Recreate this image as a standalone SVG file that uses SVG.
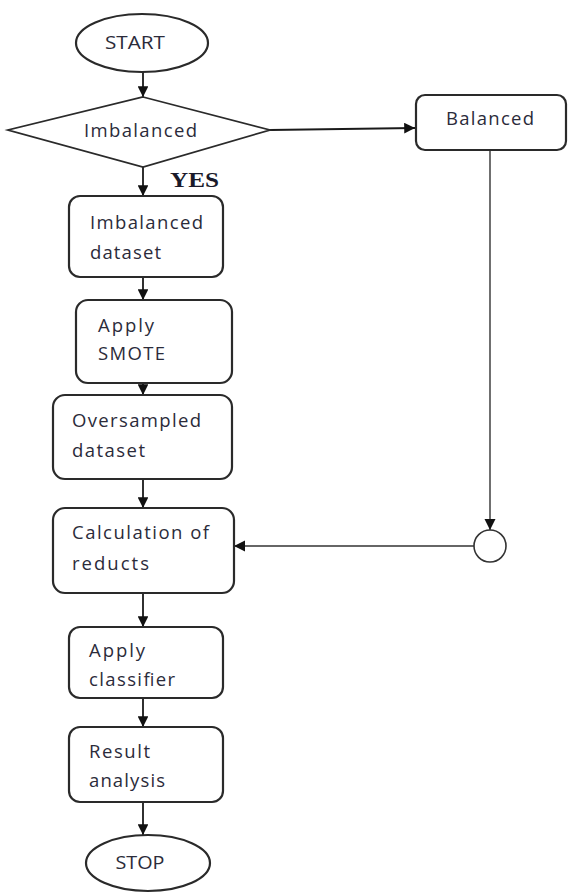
<svg xmlns="http://www.w3.org/2000/svg" width="568" height="893" viewBox="0 0 568 893">
<style>
.box{fill:#fff;stroke:#2a2a2a;stroke-width:2.2}
.t{font-family:"Open Sans","Liberation Sans",sans-serif;font-size:18.5px;fill:#2b2b3a}
.c{fill:none;stroke:#1a1a1a;stroke-width:1.8}
.thin{fill:none;stroke:#333;stroke-width:1.4}
</style>
<defs>
<marker id="ah" viewBox="0 0 10 10" refX="10" refY="5" markerWidth="6" markerHeight="6" orient="auto" markerUnits="strokeWidth">
<path d="M0,0 L10,5 L0,10 z" fill="#111"/>
</marker>
<marker id="ah2" viewBox="0 0 10 10" refX="10" refY="5" markerWidth="8" markerHeight="8" orient="auto" markerUnits="strokeWidth">
<path d="M0,0 L10,5 L0,10 z" fill="#111"/>
</marker>
</defs>
<rect width="568" height="893" fill="#fff"/>
<g id="connectors">
<line class="c" x1="143" y1="72" x2="143" y2="97" marker-end="url(#ah)"/>
<line class="c" x1="270" y1="130" x2="415" y2="128" marker-end="url(#ah)"/>
<line class="c" x1="143" y1="167" x2="143" y2="196" marker-end="url(#ah)"/>
<line class="c" x1="143" y1="277" x2="143" y2="300" marker-end="url(#ah)"/>
<line class="c" x1="143" y1="383" x2="143" y2="395" marker-end="url(#ah)"/>
<line class="c" x1="143" y1="479" x2="143" y2="508" marker-end="url(#ah)"/>
<line class="thin" x1="490" y1="150" x2="490" y2="530" marker-end="url(#ah2)"/>
<line class="thin" x1="474" y1="546" x2="234" y2="546" marker-end="url(#ah2)"/>
<line class="c" x1="143" y1="593" x2="143" y2="627" marker-end="url(#ah)"/>
<line class="c" x1="143" y1="698" x2="143" y2="727" marker-end="url(#ah)"/>
<line class="c" x1="143" y1="802" x2="143" y2="835" marker-end="url(#ah)"/>
<text x="170" y="187" font-family="Liberation Serif,serif" font-weight="bold" font-size="21" fill="#1a1a2a" textLength="49" lengthAdjust="spacingAndGlyphs">YES</text>
</g>
<g id="start">
<ellipse class="box" cx="142" cy="43" rx="66" ry="29"/>
<text class="t" x="135" y="49" text-anchor="middle" textLength="60" lengthAdjust="spacingAndGlyphs">START</text>
</g>
<g id="decision">
<polygon class="box" points="143,97 270,130 143,167 8,130" style="stroke-width:1.8"/>
<text class="t" x="84" y="137" textLength="113" lengthAdjust="spacing">Imbalanced</text>
</g>
<g id="balanced">
<rect class="box" x="416" y="95" width="150" height="55" rx="9"/>
<text class="t" x="446" y="125" textLength="88" lengthAdjust="spacing">Balanced</text>
</g>
<g id="imbalanced-dataset">
<rect class="box" x="69" y="196" width="154" height="81" rx="11"/>
<text class="t" x="90" y="229" textLength="113" lengthAdjust="spacing">Imbalanced</text>
<text class="t" x="90" y="259" textLength="71" lengthAdjust="spacing">dataset</text>
</g>
<g id="apply-smote">
<rect class="box" x="76" y="300" width="156" height="83" rx="12"/>
<text class="t" x="98" y="332" textLength="56" lengthAdjust="spacing">Apply</text>
<text class="t" x="98" y="360" textLength="67" lengthAdjust="spacing">SMOTE</text>
</g>
<g id="oversampled">
<rect class="box" x="53" y="395" width="179" height="84" rx="12"/>
<text class="t" x="72" y="427" textLength="129" lengthAdjust="spacing">Oversampled</text>
<text class="t" x="72" y="457" textLength="73" lengthAdjust="spacing">dataset</text>
</g>
<g id="calculation">
<rect class="box" x="53" y="508" width="181" height="85" rx="12"/>
<text class="t" x="72" y="539" textLength="137" lengthAdjust="spacing">Calculation of</text>
<text class="t" x="72" y="570" textLength="77" lengthAdjust="spacing">reducts</text>
</g>
<g id="junction">
<circle cx="490" cy="546" r="16" fill="#fff" stroke="#333" stroke-width="1.6"/>
</g>
<g id="apply-classifier">
<rect class="box" x="69" y="627" width="154" height="71" rx="11"/>
<text class="t" x="89" y="657" textLength="56" lengthAdjust="spacing">Apply</text>
<text class="t" x="89" y="686" textLength="86" lengthAdjust="spacing">classifier</text>
</g>
<g id="result">
<rect class="box" x="69" y="727" width="154" height="75" rx="11"/>
<text class="t" x="89" y="758" textLength="61" lengthAdjust="spacing">Result</text>
<text class="t" x="89" y="787" textLength="76" lengthAdjust="spacing">analysis</text>
</g>
<g id="stop">
<ellipse class="box" cx="148" cy="863" rx="62" ry="28"/>
<text class="t" x="140" y="869" text-anchor="middle" textLength="49" lengthAdjust="spacingAndGlyphs">STOP</text>
</g>
</svg>
